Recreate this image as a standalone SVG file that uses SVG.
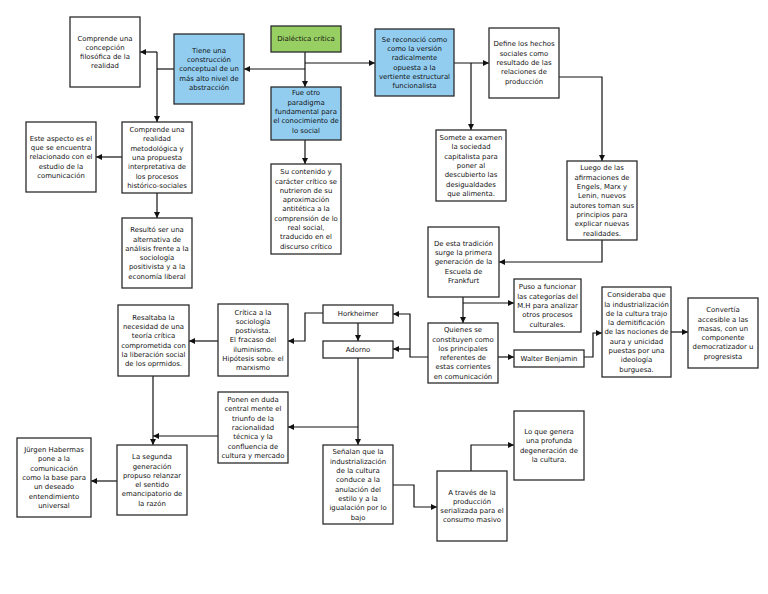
<svg xmlns="http://www.w3.org/2000/svg" width="768" height="594" viewBox="0 0 768 594">
<style>
.b{fill:#fff;stroke:#2b2b2b;stroke-width:1.3}
.bl{fill:#92cdf0;stroke:#2b2b2b;stroke-width:1.3}
.gr{fill:#98cf62;stroke:#2b2b2b;stroke-width:1.3}
text{font-family:"DejaVu Sans",Verdana,sans-serif;font-size:6.9px;fill:#111;text-anchor:middle}
.c path{fill:none;stroke:#111;stroke-width:1.2}
</style>
<defs>
<marker id="ah" markerUnits="userSpaceOnUse" markerWidth="8" markerHeight="8" refX="6" refY="3" orient="auto">
<path d="M0,0 L6,3 L0,6 Z" fill="#111"/>
</marker>
</defs>
<rect width="768" height="594" fill="#fff"/>
<g class="c">
<path d="M305,52 V87" marker-end="url(#ah)"/>
<path d="M305,69 H244" marker-end="url(#ah)"/>
<path d="M305,63 H375" marker-end="url(#ah)"/>
<path d="M174,69 H157"/>
<path d="M157,52 V122" marker-end="url(#ah)"/>
<path d="M157,52 H140" marker-end="url(#ah)"/>
<path d="M122,157 H96" marker-end="url(#ah)"/>
<path d="M157,193 V218" marker-end="url(#ah)"/>
<path d="M305,140 V164" marker-end="url(#ah)"/>
<path d="M454,63 H489" marker-end="url(#ah)"/>
<path d="M471,63 V130" marker-end="url(#ah)"/>
<path d="M559,77 H602 V161" marker-end="url(#ah)"/>
<path d="M602,240 V262 H499" marker-end="url(#ah)"/>
<path d="M463,297 V323" marker-end="url(#ah)"/>
<path d="M463,303 H514" marker-end="url(#ah)"/>
<path d="M498,357 H514" marker-end="url(#ah)"/>
<path d="M584,357 H593 V333 H602" marker-end="url(#ah)"/>
<path d="M671,332 H688" marker-end="url(#ah)"/>
<path d="M428,357 H410 V314 H393" marker-end="url(#ah)"/>
<path d="M410,349 H393" marker-end="url(#ah)"/>
<path d="M358,323 V341" marker-end="url(#ah)"/>
<path d="M323,313 H305 V341 H288" marker-end="url(#ah)"/>
<path d="M218,341 H189" marker-end="url(#ah)"/>
<path d="M153,376 V445" marker-end="url(#ah)"/>
<path d="M218,436 H153" marker-end="url(#ah)"/>
<path d="M117,481 H91" marker-end="url(#ah)"/>
<path d="M358,358 V445" marker-end="url(#ah)"/>
<path d="M358,427 H288" marker-end="url(#ah)"/>
<path d="M393,485 H414 V507 H437" marker-end="url(#ah)"/>
<path d="M471,471 V445 H514" marker-end="url(#ah)"/>
</g>
<g id="concepcion"><rect class="b" x="70" y="17" width="70" height="70"/>
<text y="40.5"><tspan x="105">Comprende una</tspan><tspan x="105" dy="9.3">concepción</tspan><tspan x="105" dy="9.3">filosófica de la</tspan><tspan x="105" dy="9.3">realidad</tspan></text></g>
<g id="tiene"><rect class="bl" x="174" y="34" width="70" height="70"/>
<text y="52.8"><tspan x="209">Tiene una</tspan><tspan x="209" dy="9.3">construcción</tspan><tspan x="209" dy="9.3">conceptual de un</tspan><tspan x="209" dy="9.3">más alto nivel de</tspan><tspan x="209" dy="9.3">abstracción</tspan></text></g>
<g id="dialectica"><rect class="gr" x="271" y="26" width="70" height="26"/>
<text x="306" y="41.4">Dialéctica crítica</text></g>
<g id="fue"><rect class="bl" x="271" y="87" width="70" height="53"/>
<text y="95.3"><tspan x="306">Fue otro</tspan><tspan x="306" dy="9.3">paradigma</tspan><tspan x="306" dy="9.3">fundamental para</tspan><tspan x="306" dy="9.3">el conocimiento de</tspan><tspan x="306" dy="9.3">lo social</tspan></text></g>
<g id="contenido"><rect class="b" x="271" y="164" width="70" height="90"/>
<text y="174.2"><tspan x="306">Su contenido y</tspan><tspan x="306" dy="9.3">carácter crítico se</tspan><tspan x="306" dy="9.3">nutrieron de su</tspan><tspan x="306" dy="9.3">aproximación</tspan><tspan x="306" dy="9.3">antitética a la</tspan><tspan x="306" dy="9.3">comprensión de lo</tspan><tspan x="306" dy="9.3">real social,</tspan><tspan x="306" dy="9.3">traducido en el</tspan><tspan x="306" dy="9.3">discurso crítico</tspan></text></g>
<g id="reconocio"><rect class="bl" x="375" y="29" width="79" height="67"/>
<text y="41.6"><tspan x="414.5">Se reconoció como</tspan><tspan x="414.5" dy="9.3">como la versión</tspan><tspan x="414.5" dy="9.3">radicalmente</tspan><tspan x="414.5" dy="9.3">opuesta a la</tspan><tspan x="414.5" dy="9.3">vertiente estructural</tspan><tspan x="414.5" dy="9.3">funcionalista</tspan></text></g>
<g id="define"><rect class="b" x="489" y="28" width="70" height="70"/>
<text y="46.4"><tspan x="524">Define los hechos</tspan><tspan x="524" dy="9.3">sociales como</tspan><tspan x="524" dy="9.3">resultado de las</tspan><tspan x="524" dy="9.3">relaciones de</tspan><tspan x="524" dy="9.3">producción</tspan></text></g>
<g id="somete"><rect class="b" x="436" y="130" width="70" height="71"/>
<text y="140"><tspan x="471">Somete a examen</tspan><tspan x="471" dy="9.3">la sociedad</tspan><tspan x="471" dy="9.3">capitalista para</tspan><tspan x="471" dy="9.3">poner al</tspan><tspan x="471" dy="9.3">descubierto las</tspan><tspan x="471" dy="9.3">desigualdades</tspan><tspan x="471" dy="9.3">que alimenta.</tspan></text></g>
<g id="luego"><rect class="b" x="567" y="161" width="70" height="79"/>
<text y="170.4"><tspan x="602">Luego de las</tspan><tspan x="602" dy="9.3">afirmaciones de</tspan><tspan x="602" dy="9.3">Engels, Marx y</tspan><tspan x="602" dy="9.3">Lenin, nuevos</tspan><tspan x="602" dy="9.3">autores toman sus</tspan><tspan x="602" dy="9.3">principios para</tspan><tspan x="602" dy="9.3">explicar nuevas</tspan><tspan x="602" dy="9.3">realidades.</tspan></text></g>
<g id="realidad"><rect class="b" x="122" y="122" width="70" height="71"/>
<text y="132"><tspan x="157">Comprende una</tspan><tspan x="157" dy="9.3">realidad</tspan><tspan x="157" dy="9.3">metodológica y</tspan><tspan x="157" dy="9.3">una propuesta</tspan><tspan x="157" dy="9.3">interpretativa de</tspan><tspan x="157" dy="9.3">los procesos</tspan><tspan x="157" dy="9.3">histórico-sociales</tspan></text></g>
<g id="aspecto"><rect class="b" x="26" y="122" width="70" height="70"/>
<text y="140.8"><tspan x="61">Este aspecto es el</tspan><tspan x="61" dy="9.3">que se encuentra</tspan><tspan x="61" dy="9.3">relacionado con el</tspan><tspan x="61" dy="9.3">estudio de la</tspan><tspan x="61" dy="9.3">comunicación</tspan></text></g>
<g id="resulto"><rect class="b" x="122" y="218" width="70" height="70"/>
<text y="232.2"><tspan x="157">Resultó ser una</tspan><tspan x="157" dy="9.3">alternativa de</tspan><tspan x="157" dy="9.3">análisis frente a la</tspan><tspan x="157" dy="9.3">sociología</tspan><tspan x="157" dy="9.3">positivista y a la</tspan><tspan x="157" dy="9.3">economía liberal</tspan></text></g>
<g id="tradicion"><rect class="b" x="428" y="227" width="71" height="70"/>
<text y="245.8"><tspan x="463.5">De esta tradición</tspan><tspan x="463.5" dy="9.3">surge la primera</tspan><tspan x="463.5" dy="9.3">generación de la</tspan><tspan x="463.5" dy="9.3">Escuela de</tspan><tspan x="463.5" dy="9.3">Frankfurt</tspan></text></g>
<g id="puso"><rect class="b" x="514" y="279" width="67" height="53"/>
<text y="289.3"><tspan x="547.5">Puso a funcionar</tspan><tspan x="547.5" dy="9.3">las categorías del</tspan><tspan x="547.5" dy="9.3">M.H para analizar</tspan><tspan x="547.5" dy="9.3">otros procesos</tspan><tspan x="547.5" dy="9.3">culturales.</tspan></text></g>
<g id="quienes"><rect class="b" x="428" y="323" width="70" height="60"/>
<text y="332.2"><tspan x="463">Quienes se</tspan><tspan x="463" dy="9.3">constituyen como</tspan><tspan x="463" dy="9.3">los principales</tspan><tspan x="463" dy="9.3">referentes de</tspan><tspan x="463" dy="9.3">estas corrientes</tspan><tspan x="463" dy="9.3">en comunicación</tspan></text></g>
<g id="walter"><rect class="b" x="514" y="350" width="70" height="17"/>
<text x="549" y="360.9">Walter Benjamin</text></g>
<g id="consideraba"><rect class="b" x="602" y="287" width="69" height="90"/>
<text y="297.2"><tspan x="636.5">Consideraba que</tspan><tspan x="636.5" dy="9.3">la industrialización</tspan><tspan x="636.5" dy="9.3">de la cultura trajo</tspan><tspan x="636.5" dy="9.3">la demitificación</tspan><tspan x="636.5" dy="9.3">de las nociones de</tspan><tspan x="636.5" dy="9.3">aura y unicidad</tspan><tspan x="636.5" dy="9.3">puestas por una</tspan><tspan x="636.5" dy="9.3">ideología</tspan><tspan x="636.5" dy="9.3">burguesa.</tspan></text></g>
<g id="convertia"><rect class="b" x="688" y="298" width="70" height="70"/>
<text y="312.2"><tspan x="723">Convertía</tspan><tspan x="723" dy="9.3">accesible a las</tspan><tspan x="723" dy="9.3">masas, con un</tspan><tspan x="723" dy="9.3">componente</tspan><tspan x="723" dy="9.3">democratizador u</tspan><tspan x="723" dy="9.3">progresista</tspan></text></g>
<g id="horkheimer"><rect class="b" x="323" y="305" width="70" height="18"/>
<text x="358" y="316.4">Horkheimer</text></g>
<g id="adorno"><rect class="b" x="323" y="341" width="70" height="17"/>
<text x="358" y="351.9">Adorno</text></g>
<g id="critica"><rect class="b" x="218" y="304" width="70" height="72"/>
<text y="314.5"><tspan x="253">Crítica a la</tspan><tspan x="253" dy="9.3">sociología</tspan><tspan x="253" dy="9.3">postivista.</tspan><tspan x="253" dy="9.3">El fracaso del</tspan><tspan x="253" dy="9.3">iluminismo.</tspan><tspan x="253" dy="9.3">Hipótesis sobre el</tspan><tspan x="253" dy="9.3">marxismo</tspan></text></g>
<g id="resaltaba"><rect class="b" x="118" y="305" width="71" height="71"/>
<text y="319.7"><tspan x="153.5">Resaltaba la</tspan><tspan x="153.5" dy="9.3">necesidad de una</tspan><tspan x="153.5" dy="9.3">teoría crítica</tspan><tspan x="153.5" dy="9.3">comprometida con</tspan><tspan x="153.5" dy="9.3">la liberación social</tspan><tspan x="153.5" dy="9.3">de los oprmidos.</tspan></text></g>
<g id="ponen"><rect class="b" x="218" y="392" width="70" height="71"/>
<text y="402"><tspan x="253">Ponen en duda</tspan><tspan x="253" dy="9.3">central mente el</tspan><tspan x="253" dy="9.3">triunfo de la</tspan><tspan x="253" dy="9.3">racionalidad</tspan><tspan x="253" dy="9.3">técnica y la</tspan><tspan x="253" dy="9.3">confluencia de</tspan><tspan x="253" dy="9.3">cultura y mercado</tspan></text></g>
<g id="segunda"><rect class="b" x="117" y="445" width="70" height="70"/>
<text y="459.2"><tspan x="152">La segunda</tspan><tspan x="152" dy="9.3">generación</tspan><tspan x="152" dy="9.3">propuso relanzar</tspan><tspan x="152" dy="9.3">el sentido</tspan><tspan x="152" dy="9.3">emancipatorio de</tspan><tspan x="152" dy="9.3">la razón</tspan></text></g>
<g id="habermas"><rect class="b" x="17" y="438" width="74" height="79"/>
<text y="452"><tspan x="54">Jürgen Habermas</tspan><tspan x="54" dy="9.3">pone a la</tspan><tspan x="54" dy="9.3">comunicación</tspan><tspan x="54" dy="9.3">como la base para</tspan><tspan x="54" dy="9.3">un deseado</tspan><tspan x="54" dy="9.3">entendimiento</tspan><tspan x="54" dy="9.3">universal</tspan></text></g>
<g id="senalan"><rect class="b" x="323" y="445" width="70" height="79"/>
<text y="454.4"><tspan x="358">Señalan que la</tspan><tspan x="358" dy="9.3">industrialización</tspan><tspan x="358" dy="9.3">de la cultura</tspan><tspan x="358" dy="9.3">conduce a la</tspan><tspan x="358" dy="9.3">anulación del</tspan><tspan x="358" dy="9.3">estilo y a la</tspan><tspan x="358" dy="9.3">igualación por lo</tspan><tspan x="358" dy="9.3">bajo</tspan></text></g>
<g id="traves"><rect class="b" x="437" y="471" width="70" height="70"/>
<text y="494.5"><tspan x="472">A través de la</tspan><tspan x="472" dy="9.3">producción</tspan><tspan x="472" dy="9.3">serializada para el</tspan><tspan x="472" dy="9.3">consumo masivo</tspan></text></g>
<g id="degeneracion"><rect class="b" x="514" y="411" width="70" height="69"/>
<text y="434"><tspan x="549">Lo que genera</tspan><tspan x="549" dy="9.3">una profunda</tspan><tspan x="549" dy="9.3">degeneración de</tspan><tspan x="549" dy="9.3">la cultura.</tspan></text></g>
</svg>
